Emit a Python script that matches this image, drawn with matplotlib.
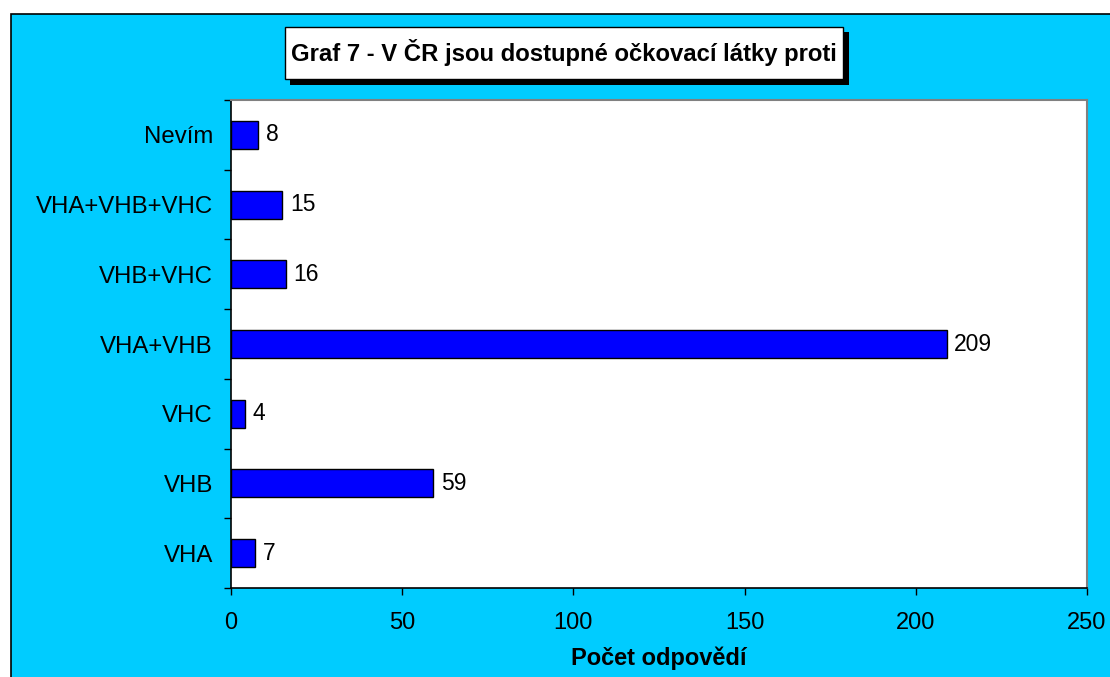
import matplotlib.pyplot as plt
import numpy as np
from matplotlib.patches import Rectangle

# Survey answers, bottom to top
CATEGORIES = ["VHA", "VHB", "VHC", "VHA+VHB", "VHB+VHC", "VHA+VHB+VHC", "Nevím"]
COUNTS = [7, 59, 4, 209, 16, 15, 8]

TITLE = "Graf 7 - V ČR jsou dostupné očkovací látky proti"
XLABEL = "Počet odpovědí"

CYAN = "#00CCFF"
BLUE = "#0000FF"
W, H = 1110, 677

plt.rcParams["font.family"] = ["Liberation Sans", "DejaVu Sans"]

fig = plt.figure(figsize=(W / 100, H / 100), dpi=100)
fig.patch.set_facecolor("white")


def px_box(x0, y0, x1, y1):
    # pixel box (top-left origin) -> figure fraction [left, bottom, width, height]
    return [x0 / W, 1 - y1 / H, (x1 - x0) / W, (y1 - y0) / H]


# cyan chart frame, behind the axes
l, b, w, h = px_box(10.5, 13.5, W + 5, H + 5)
fig.patches.append(Rectangle((l, b), w, h, transform=fig.transFigure,
                             facecolor=CYAN, edgecolor="black", lw=1.2, zorder=-10))

ax = fig.add_axes(px_box(231, 100, 1087, 588))
ax.set_facecolor("white")

y = np.arange(len(CATEGORIES))
ax.barh(y, COUNTS, height=0.4, color=BLUE, edgecolor="black", lw=1.0, zorder=3)
for yi, v in zip(y, COUNTS):
    ax.annotate(str(v), (v, yi), xytext=(5.5, 0), textcoords="offset points",
                va="center", ha="left", fontsize=16.5)

ax.set_xlim(0, 250)
ax.set_ylim(-0.5, len(CATEGORIES) - 0.5)
ax.set_xticks(np.arange(0, 251, 50))
ax.tick_params(axis="x", direction="out", length=5, width=1, labelsize=17, pad=12)

# tick marks between categories, labels at the centres
ax.set_yticks(np.arange(-0.5, len(CATEGORIES), 1.0))
ax.set_yticklabels([])
ax.set_yticks(y, minor=True)
ax.set_yticklabels(CATEGORIES, minor=True)
ax.tick_params(axis="y", which="major", direction="out", length=5, width=1)
ax.tick_params(axis="y", which="minor", length=0, labelsize=17.3, pad=13)

for s in ["left", "bottom"]:
    ax.spines[s].set_color("black")
    ax.spines[s].set_linewidth(1.2)
for s in ["top", "right"]:
    ax.spines[s].set_color("#808080")
    ax.spines[s].set_linewidth(1.5)

ax.set_xlabel(XLABEL, fontsize=17, fontweight="bold", labelpad=9)

# title box with drop shadow
l, b, w, h = px_box(290, 32, 849, 85)
fig.patches.append(Rectangle((l, b), w, h, transform=fig.transFigure,
                             facecolor="black", edgecolor="none", zorder=5))
l, b, w, h = px_box(285, 26.5, 843, 79)
fig.patches.append(Rectangle((l, b), w, h, transform=fig.transFigure,
                             facecolor="white", edgecolor="black", lw=1.0, zorder=6))
fig.text(564 / W, 1 - 53 / H, TITLE, ha="center", va="center",
         fontsize=17.2, fontweight="bold", zorder=7)

fig.savefig("out.png", dpi=100)
